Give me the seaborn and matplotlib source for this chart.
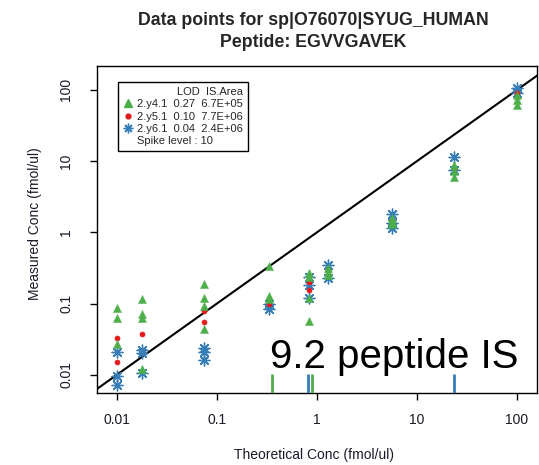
import numpy as np
import pandas as pd
import matplotlib
matplotlib.use("Agg")
import matplotlib.pyplot as plt
from matplotlib.lines import Line2D
from matplotlib.ticker import FixedLocator, FixedFormatter, NullLocator
import seaborn as sns

# ---------------- data ----------------
conc_levels = [0.01, 0.018, 0.075, 0.33, 0.83, 1.3, 5.6, 23.5, 100]

y4_conc = [0.01, 0.01, 0.01,
           0.018, 0.018, 0.018, 0.018,
           0.075, 0.075, 0.075, 0.075,
           0.33, 0.33, 0.33,
           0.83, 0.83, 0.83, 0.83,
           1.3, 1.3, 1.3,
           5.6, 5.6, 5.6,
           23.5, 23.5, 23.5,
           100, 100, 100]
y4_meas = [0.088, 0.062, 0.027,
           0.116, 0.072, 0.063, 0.012,
           0.19, 0.12, 0.094, 0.044,
           0.34, 0.13, 0.115,
           0.27, 0.24, 0.12, 0.057,
           0.32, 0.28, 0.25,
           1.6, 1.45, 1.3,
           8.8, 7.2, 6.0,
           85, 72, 62]

y5_conc = [0.01, 0.01, 0.018, 0.075, 0.075, 0.33, 0.83, 0.83, 1.3, 5.6, 23.5, 100]
y5_meas = [0.033, 0.015, 0.037, 0.078, 0.055, 0.10, 0.20, 0.155, 0.30, 1.5, 8.0, 90]

y6_conc = [0.01, 0.01, 0.01,
           0.018, 0.018, 0.018,
           0.075, 0.075, 0.075,
           0.33, 0.33,
           0.83, 0.83, 0.83,
           1.3, 1.3,
           5.6, 5.6, 5.6,
           23.5, 23.5,
           100, 100]
y6_meas = [0.021, 0.0095, 0.0073,
           0.0225, 0.020, 0.0105,
           0.024, 0.021, 0.0163,
           0.10, 0.083,
           0.24, 0.185, 0.12,
           0.35, 0.23,
           1.8, 1.35, 1.15,
           11.4, 7.5,
           105, 92]

rug_green = [0.355, 0.90]
rug_blue = [0.825, 23.6]

identity = [0.01, 100]

tick_vals = [0.01, 0.1, 1, 10, 100]
tick_labels = ["0.01", "0.1", "1", "10", "100"]

legend_labels = ["2.y4.1  0.27  6.7E+05",
                 "2.y5.1  0.10  7.7E+06",
                 "2.y6.1  0.04  2.4E+06",
                 "Spike level : 10"]

GREEN = "#4DAF4A"
RED = "#E41A1C"
BLUE = "#377EB8"

df = pd.concat([
    pd.DataFrame({"conc": y4_conc, "measured": y4_meas, "transition": "2.y4.1"}),
    pd.DataFrame({"conc": y5_conc, "measured": y5_meas, "transition": "2.y5.1"}),
    pd.DataFrame({"conc": y6_conc, "measured": y6_meas, "transition": "2.y6.1"}),
], ignore_index=True)

# ---------------- style ----------------
sns.set_style("ticks")
plt.rcParams["font.family"] = ["Liberation Sans", "DejaVu Sans"]

W, H = 539, 465
fig = plt.figure(figsize=(W / 100, H / 100), dpi=100)
ax_l, ax_r, ax_t, ax_b = 96.7, 537.0, 65.7, 392.7
ax = fig.add_axes([ax_l / W, 1 - ax_b / H, (ax_r - ax_l) / W, (ax_b - ax_t) / H])
ax.set_xscale("log")
ax.set_yscale("log")
ax.set_xlim(10 ** -2.2, 10 ** 2.2)
ax.set_ylim(10 ** -2.25, 10 ** 2.34)

# identity line
ax.axline((identity[0], identity[0]), (identity[1], identity[1]), color="black", lw=1.5, zorder=2)

# points
sns.scatterplot(data=df[df.transition == "2.y6.1"], x="conc", y="measured",
                marker=(8, 2, 0), s=60, color=BLUE, linewidth=1.0, legend=False, ax=ax, zorder=3)
sns.scatterplot(data=df[df.transition == "2.y5.1"], x="conc", y="measured",
                marker="o", s=14, color=RED, edgecolor=RED, linewidth=0.3, legend=False, ax=ax, zorder=4)
sns.scatterplot(data=df[df.transition == "2.y4.1"], x="conc", y="measured",
                marker="^", s=34, color=GREEN, edgecolor=GREEN, linewidth=0.3, legend=False, ax=ax, zorder=5)

# rugs
sns.rugplot(x=rug_green, height=0.056, color=GREEN, linewidth=2, ax=ax, zorder=3)
sns.rugplot(x=rug_blue, height=0.056, color=BLUE, linewidth=2, ax=ax, zorder=3)

# axes styling
for sp in ax.spines.values():
    sp.set_visible(True)
    sp.set_color("black")
    sp.set_linewidth(1.0)
ax.xaxis.set_major_locator(FixedLocator(tick_vals))
ax.xaxis.set_major_formatter(FixedFormatter(tick_labels))
ax.yaxis.set_major_locator(FixedLocator(tick_vals))
ax.yaxis.set_major_formatter(FixedFormatter(tick_labels))
ax.xaxis.set_minor_locator(NullLocator())
ax.yaxis.set_minor_locator(NullLocator())
ax.tick_params(axis="both", which="major", length=5, width=1.0, color="black",
               labelsize=10, labelcolor="#1a1a2a", direction="out")
ax.tick_params(axis="x", pad=9.5)
ax.tick_params(axis="y", pad=12, labelrotation=90)
for lab in ax.get_yticklabels():
    lab.set_va("center")

ax.set_xlabel("Theoretical Conc (fmol/ul)", fontsize=10, color="#1a1a2a")
ax.set_ylabel("Measured Conc (fmol/ul)", fontsize=10, color="#1a1a2a")
ax.xaxis.set_label_coords((314 - ax_l) / (ax_r - ax_l), -(448.3 - ax_b) / (ax_b - ax_t))
ax.yaxis.set_label_coords((42 - ax_l) / (ax_r - ax_l), (ax_b - 224) / (ax_b - ax_t))

# legend
handles = [Line2D([], [], marker="^", color=GREEN, linestyle="none", markersize=5.5),
           Line2D([], [], marker="o", color=RED, linestyle="none", markersize=3.5),
           Line2D([], [], marker=(8, 2, 0), color=BLUE, linestyle="none", markersize=7, markeredgewidth=1.0),
           Line2D([], [], linestyle="none", marker=None)]
leg = ax.legend(handles, legend_labels, title="LOD  IS.Area", loc="upper left",
                bbox_to_anchor=(118.3 / W, 1 - 81.7 / H), bbox_transform=fig.transFigure,
                borderaxespad=0, fontsize=8, title_fontsize=8, alignment="right",
                frameon=True, fancybox=False, shadow=False, framealpha=1,
                edgecolor="black", borderpad=0.45, handlelength=0.8, handletextpad=0.4,
                labelspacing=0.22)
leg.get_frame().set_linewidth(1.0)

# titles
fig.text(313 / W, 1 - 25 / H, "Data points for sp|O76070|SYUG_HUMAN", ha="center", va="baseline",
         fontsize=12.8, fontweight="bold")
fig.text(313 / W, 1 - 46.7 / H, "Peptide: EGVVGAVEK", ha="center", va="baseline",
         fontsize=12.8, fontweight="bold")

# overlay annotation
fig.text(270 / W, 1 - 368 / H, "9.2 peptide IS", ha="left", va="baseline", fontsize=29, color="black")

fig.savefig("out.png", dpi=100)
